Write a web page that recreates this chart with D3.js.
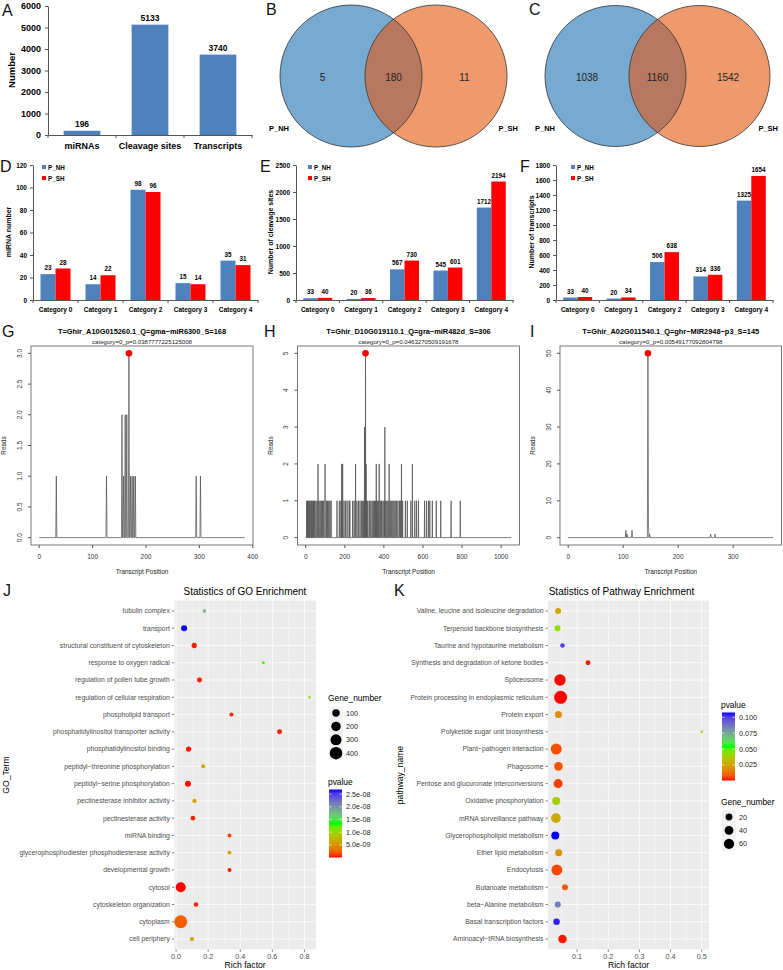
<!DOCTYPE html>
<html><head><meta charset="utf-8">
<script src="https://cdn.jsdelivr.net/npm/d3@7"></script>
<style>body{margin:0;background:#fff}svg{display:block}text{font-family:"Liberation Sans",Arial,Helvetica,sans-serif}</style>
</head><body><svg id="c" width="783" height="970"></svg>
<script>
// ================= DATA =================
// Panel A
const aCategories = ["miRNAs", "Cleavage sites", "Transcripts"];
const aValues = [196, 5133, 3740];
const aTicks = [0, 1000, 2000, 3000, 4000, 5000, 6000];
// Panels B, C (Venn: only-left, both, only-right)
const vennSets = ["P_NH", "P_SH"];
const vennB = [5, 180, 11];
const vennC = [1038, 1160, 1542];
// Panels D, E, F
const catNames = ["Category 0", "Category 1", "Category 2", "Category 3", "Category 4"];
const seriesNames = ["P_NH", "P_SH"];
const dNH = [23, 14, 98, 15, 35];
const dSH = [28, 22, 96, 14, 31];
const dTicks = [0, 20, 40, 60, 80, 100, 120];
const eNH = [33, 20, 567, 545, 1712];
const eSH = [40, 36, 730, 601, 2194];
const eTicks = [0, 500, 1000, 1500, 2000, 2500];
const fNH = [33, 20, 506, 314, 1325];
const fSH = [40, 34, 638, 336, 1654];
const fTicks = [0, 200, 400, 600, 800, 1000, 1200, 1400, 1600, 1800];
// Panel G (t-plot)
const gTitle = "T=Ghir_A10G015260.1_Q=gma\u2212miR6300_S=168";
const gSub = "category=0_p=0.0387777225125008";
const gLength = 385;
const gPos =   [32, 126, 155, 158, 161, 164, 168, 171, 174, 177, 180, 294, 302];
const gReads = [1,  1,   2,   1,   2,   2,   3,   1,   1,   1,   1,   1,   1];
const gSite = 168, gSiteReads = 3;
const gXTicks = [0, 100, 200, 300, 400];
const gYTicks = [0, 0.5, 1, 1.5, 2, 2.5, 3];
// Panel H
const hTitle = "T=Ghir_D10G019110.1_Q=gra\u2212miR482d_S=306";
const hSub = "category=0_p=0.0463270509191678";
const hLength = 1052;
const hPos =   [5,9,13,18,22,27,31,36,40,45,52,58,63,68,74,80,86,92,99,106,112,118,124,130,160,172,180,184,189,196,204,212,222,226,240,248,255,262,270,278,286,292,297,301,306,309,313,318,326,333,340,346,352,358,361,366,371,376,382,388,395,401,405,410,416,422,427,433,440,446,452,458,465,472,480,486,490,496,510,520,538,546,558,567,577,608,618,628,635,648,668,691,744,791];
const hReads = [1,1,1,1,1,1,1,1,1,1,1,1,2,1,1,1,1,1,2,1,1,1,1,1,1,1,1,2,2,1,1,1,1,1,1,1,2,1,1,1,1,1,1,3,5,2,1,1,1,1,1,1,1,1,2,1,1,2,1,1,1,1,3,1,1,1,2,1,1,1,1,1,1,1,1,1,2,1,1,1,1,2,1,1,1,1,1,1,1,1,1,1,1,1];
const hSite = 306, hSiteReads = 5;
const hXTicks = [0, 200, 400, 600, 800, 1000];
const hYTicks = [0, 1, 2, 3, 4, 5];
// Panel I
const iTitle = "T=Ghir_A02G011540.1_Q=ghr\u2212MIR2948\u2212p3_S=145";
const iSub = "category=0_p=0.00549177092804798";
const iLength = 373;
const iPos =   [105, 107, 116, 145, 146, 148, 259, 267];
const iReads = [2,   1,   2,   50,  3,   1,   1,   1];
const iSite = 145, iSiteReads = 50;
const iXTicks = [0, 100, 200, 300];
const iYTicks = [0, 10, 20, 30, 40, 50];
// Panel J (GO enrichment)
const goTerms = ["tubulin complex","transport","structural constituent of cytoskeleton","response to oxygen radical","regulation of pollen tube growth","regulation of cellular respiration","phospholipid transport","phosphatidylinositol transporter activity","phosphatidylinositol binding","peptidyl\u2212threonine phosphorylation","peptidyl\u2212serine phosphorylation","pectinesterase inhibitor activity","pectinesterase activity","miRNA binding","glycerophosphodiester phosphodiesterase activity","developmental growth","cytosol","cytoskeleton organization","cytoplasm","cell periphery"];
const goRich =  [0.176,0.050,0.113,0.544,0.146,0.832,0.345,0.645,0.078,0.169,0.074,0.115,0.105,0.333,0.333,0.333,0.029,0.124,0.029,0.099];
const goGenes = [5,52,34,3,27,2,11,27,34,11,52,15,21,11,9,11,231,21,450,15];
const goP =     [1.81e-8,2.68e-8,3e-10,1.3e-8,2e-10,1.07e-8,4e-10,3e-10,2e-10,6.2e-9,1e-10,6.4e-9,3e-10,1e-9,6.4e-9,2e-10,1e-11,4e-10,2.2e-9,6.2e-9];
const goXTicks = [0, 0.2, 0.4, 0.6, 0.8];
const goSizeBreaks = [100, 200, 300, 400];
const goPTicks = [5e-9, 1e-8, 1.5e-8, 2e-8, 2.5e-8];
// Panel K (pathway enrichment)
const pwTerms = ["Valine, leucine and isoleucine degradation","Terpenoid backbone biosynthesis","Taurine and hypotaurine metabolism","Synthesis and degradation of ketone bodies","Spliceosome","Protein processing in endoplasmic reticulum","Protein export","Polyketide sugar unit biosynthesis","Plant\u2212pathogen interaction","Phagosome","Pentose and glucuronate interconversions","Oxidative phosphorylation","mRNA surveillance pathway","Glycerophospholipid metabolism","Ether lipid metabolism","Endocytosis","Butanoate metabolism","beta\u2212Alanine metabolism","Basal transcription factors","Aminoacyl\u2212tRNA biosynthesis"];
const pwRich =  [0.039,0.037,0.053,0.135,0.045,0.047,0.040,0.500,0.033,0.040,0.039,0.033,0.032,0.030,0.041,0.035,0.061,0.038,0.034,0.053];
const pwGenes = [13,13,5,7,80,110,21,1,72,37,43,31,52,31,21,70,13,13,17,37];
const pwP =     [0.026,0.043,0.100,0.001,0.0005,0.0003,0.019,0.038,0.0065,0.007,0.004,0.037,0.027,0.1076,0.020,0.005,0.008,0.086,0.105,0.001];
const pwXTicks = [0.1, 0.2, 0.3, 0.4, 0.5];
const pwSizeBreaks = [20, 40, 60];
const pwPTicks = [0.025, 0.05, 0.075, 0.1];

// ================= DRAWING =================
const svg = d3.select("#c");
svg.append("rect").attr("width", 783).attr("height", 970).attr("fill", "#fff");
const barBlue = "#4F81BD", barRed = "#FF0000";

function txt(g, s, x, y, size, opts = {}) {
  const t = g.append("text").attr("x", x).attr("y", y).attr("font-size", size).text(s)
    .attr("fill", opts.fill || "#000");
  if (opts.anchor) t.attr("text-anchor", opts.anchor);
  if (opts.bold) t.attr("font-weight", "bold");
  if (opts.rot) t.attr("transform", `rotate(${opts.rot},${x},${y})`);
  return t;
}
function letter(s, x, y) { txt(svg, s, x, y, 16, { fill: "#111" }); }

// ---------- Panel A ----------
(function () {
  const g = svg.append("g");
  const x = d3.scaleBand().domain(aCategories).range([48, 252]).paddingInner(0.46).paddingOuter(0.23);
  const y = d3.scaleLinear().domain([0, d3.max(aTicks)]).range([135, 6]);
  g.selectAll("rect.bar").data(aValues).join("rect")
    .attr("x", (d, i) => x(aCategories[i])).attr("y", d => y(d))
    .attr("width", x.bandwidth()).attr("height", d => y(0) - y(d)).attr("fill", barBlue);
  g.selectAll("text.val").data(aValues).join("text")
    .attr("x", (d, i) => x(aCategories[i]) + x.bandwidth() / 2).attr("y", d => y(d) - 4)
    .attr("text-anchor", "middle").attr("font-size", 8.5).attr("font-weight", "bold").text(d => d);
  const ax = g.append("g").attr("transform", "translate(48,0)").call(d3.axisLeft(y).tickValues(aTicks).tickFormat(d3.format("d")).tickSize(3).tickSizeOuter(0).tickPadding(4));
  ax.selectAll("text").attr("font-size", 9).attr("font-weight", "bold").attr("font-family", null);
  ax.selectAll("line,path").attr("stroke", "#555");
  const bx = g.append("g").attr("transform", "translate(0,135)").call(d3.axisBottom(x).tickSize(0).tickPadding(8).tickSizeOuter(0));
  bx.selectAll("text").attr("font-size", 9).attr("font-weight", "bold").attr("font-family", null);
  bx.select("path").attr("stroke", "#555");
  d3.range(aCategories.length + 1).forEach(i => {
    const xx = x.range()[0] + i * x.step();
    g.append("line").attr("x1", xx).attr("x2", xx).attr("y1", 135).attr("y2", 138).attr("stroke", "#555");
  });
  txt(g, "Number", 15, 70, 9.5, { bold: true, anchor: "middle", rot: -90 });
  letter("A", 2, 16);
})();

// ---------- Venn B, C ----------
function venn(counts, cx, cy, r, d, lx0, lx1) {
  const g = svg.append("g");
  const id = "clip" + Math.round(cx);
  const centers = [cx - d / 2, cx + d / 2];
  g.append("clipPath").attr("id", id).append("circle").attr("cx", centers[0]).attr("cy", cy).attr("r", r);
  g.append("circle").attr("cx", centers[0]).attr("cy", cy).attr("r", r).attr("fill", "#77AAD1");
  g.append("circle").attr("cx", centers[1]).attr("cy", cy).attr("r", r).attr("fill", "#EF9A6D");
  g.append("circle").attr("cx", centers[1]).attr("cy", cy).attr("r", r).attr("fill", "#B7785F").attr("clip-path", `url(#${id})`);
  centers.forEach(c => g.append("circle").attr("cx", c).attr("cy", cy).attr("r", r).attr("fill", "none").attr("stroke", "#333").attr("stroke-width", 0.8));
  const lx = [(centers[0] - r + centers[1] - r) / 2, cx, (centers[0] + r + centers[1] + r) / 2];
  counts.forEach((v, i) => txt(g, v, lx[i], cy + 4.5, 10, { anchor: "middle", fill: "#222" }));
  txt(g, vennSets[0], lx0, 131, 7.5, { bold: true });
  txt(g, vennSets[1], lx1, 131, 7.5, { bold: true, anchor: "end" });
}
venn(vennB, 393.5, 76, 71, 85, 269, 518);
letter("B", 266, 15);
venn(vennC, 657.5, 76, 70.5, 84, 535, 778);
letter("C", 529, 15);

// ---------- Grouped bars D, E, F ----------
function barPanel(o) {
  const g = svg.append("g");
  const x = d3.scaleBand().domain(catNames).range([o.x0, o.x1]).paddingInner(1 / 3).paddingOuter(1 / 6);
  const xs = d3.scaleBand().domain(seriesNames).range([0, x.bandwidth()]);
  const y = d3.scaleLinear().domain([0, d3.max(o.ticks)]).range([300, 165]);
  const cols = [barBlue, barRed];
  const rows = [];
  catNames.forEach((c, i) => [o.nh[i], o.sh[i]].forEach((v, j) => rows.push({ c, s: seriesNames[j], v, col: cols[j] })));
  g.selectAll("rect").data(rows).join("rect")
    .attr("x", d => x(d.c) + xs(d.s)).attr("y", d => y(d.v)).attr("width", xs.bandwidth())
    .attr("height", d => y(0) - y(d.v)).attr("fill", d => d.col);
  g.selectAll("text.v").data(rows).join("text")
    .attr("x", d => x(d.c) + xs(d.s) + xs.bandwidth() / 2).attr("y", d => y(d.v) - 4)
    .attr("text-anchor", "middle").attr("font-size", 6.3).attr("font-weight", "bold").text(d => d.v);
  const ax = g.append("g").attr("transform", `translate(${o.x0},0)`).call(d3.axisLeft(y).tickValues(o.ticks).tickFormat(d3.format("d")).tickSize(3).tickSizeOuter(0).tickPadding(3));
  ax.selectAll("text").attr("font-size", 6.5).attr("font-weight", "bold").attr("font-family", null);
  ax.selectAll("line,path").attr("stroke", "#555");
  const bx = g.append("g").attr("transform", "translate(0,300)").call(d3.axisBottom(x).tickSize(0).tickPadding(7).tickSizeOuter(0));
  bx.selectAll("text").attr("font-size", 6.5).attr("font-weight", "bold").attr("font-family", null);
  bx.select("path").attr("stroke", "#555");
  d3.range(catNames.length + 1).forEach(i => {
    const xx = o.x0 + i * x.step();
    g.append("line").attr("x1", xx).attr("x2", xx).attr("y1", 300).attr("y2", 303).attr("stroke", "#555");
  });
  txt(g, o.ylabel, o.ylx, 232, 7, { bold: true, anchor: "middle", rot: -90 });
  seriesNames.forEach((s, j) => {
    g.append("rect").attr("x", o.lx).attr("y", 165 + j * 11).attr("width", 4).attr("height", 4).attr("fill", cols[j]);
    txt(g, s, o.lx + 6, 169.5 + j * 11, 6.3, { bold: true });
  });
}
barPanel({ x0: 33, x1: 258, nh: dNH, sh: dSH, ticks: dTicks, ylabel: "miRNA number", ylx: 11, lx: 42 });
barPanel({ x0: 296, x1: 513, nh: eNH, sh: eSH, ticks: eTicks, ylabel: "Number of cleavage sites", ylx: 273, lx: 308 });
barPanel({ x0: 556, x1: 773, nh: fNH, sh: fSH, ticks: fTicks, ylabel: "Number of transcripts", ylx: 534, lx: 571 });
letter("D", 0, 172); letter("E", 260, 172); letter("F", 520, 172);

// ---------- Degradome t-plots G, H, I ----------
function tplot(o) {
  const g = svg.append("g");
  const yt = 346, yb = 545;
  const maxR = d3.max(o.reads);
  const px = o.length * 0.04, py = maxR * 0.04;
  const x = d3.scaleLinear().domain([-px, o.length + px]).range([o.x0, o.x1]);
  const y = d3.scaleLinear().domain([-py, maxR + py]).range([yb, yt]);
  const m = new Map(o.pos.map((p, i) => [p, o.reads[i]]));
  const keys = new Set([0, o.length]);
  o.pos.forEach(p => { keys.add(p - 1); keys.add(p); keys.add(p + 1); });
  const pts = Array.from(keys).sort((a, b) => a - b).map(p => [p, m.get(p) || 0]);
  g.append("path").attr("d", d3.line().x(d => x(d[0])).y(d => y(d[1]))(pts))
    .attr("fill", "none").attr("stroke", "#4a4a4a").attr("stroke-width", 0.7);
  g.append("circle").attr("cx", x(o.site)).attr("cy", y(o.siteReads)).attr("r", 3.3).attr("fill", "#FF0000");
  g.append("rect").attr("x", o.x0).attr("y", yt).attr("width", o.x1 - o.x0).attr("height", yb - yt)
    .attr("fill", "none").attr("stroke", "#555").attr("stroke-width", 0.8);
  o.xt.forEach(t => {
    g.append("line").attr("x1", x(t)).attr("x2", x(t)).attr("y1", yb).attr("y2", yb + 3).attr("stroke", "#555");
    txt(g, t, x(t), yb + 14, 6.5, { anchor: "middle", fill: "#333" });
  });
  o.yt.forEach(t => {
    g.append("line").attr("x1", o.x0).attr("x2", o.x0 - 3).attr("y1", y(t)).attr("y2", y(t)).attr("stroke", "#555");
    txt(g, o.fmt(t), o.x0 - 9, y(t), 6.5, { anchor: "middle", fill: "#333", rot: -90 });
  });
  const cx = (o.x0 + o.x1) / 2;
  txt(g, o.title, cx, 334, 7.4, { anchor: "middle", bold: true });
  txt(g, o.sub, cx, 344, 6.1, { anchor: "middle", fill: "#222" });
  txt(g, "Transcript Position", cx, 574, 6.4, { anchor: "middle", fill: "#222" });
  txt(g, "Reads", o.x0 - 25, (yt + yb) / 2, 6.4, { anchor: "middle", fill: "#222", rot: -90 });
}
tplot({ x0: 31, x1: 253, length: gLength, pos: gPos, reads: gReads, site: gSite, siteReads: gSiteReads, xt: gXTicks, yt: gYTicks, fmt: d3.format(".1f"), title: gTitle, sub: gSub });
tplot({ x0: 297.5, x1: 519.5, length: hLength, pos: hPos, reads: hReads, site: hSite, siteReads: hSiteReads, xt: hXTicks, yt: hYTicks, fmt: d3.format("d"), title: hTitle, sub: hSub });
tplot({ x0: 560, x1: 781.5, length: iLength, pos: iPos, reads: iReads, site: iSite, siteReads: iSiteReads, xt: iXTicks, yt: iYTicks, fmt: d3.format("d"), title: iTitle, sub: iSub });
letter("G", 2, 337); letter("H", 264, 337); letter("I", 530, 337);

// ---------- Enrichment dot plots J, K ----------
function dotPlot(o) {
  const g = svg.append("g");
  const yt = 600.6, yb = 949.4;
  const ext = d3.extent(o.rich), pad = (ext[1] - ext[0]) * 0.05;
  const x = d3.scaleLinear().domain([ext[0] - pad, ext[1] + pad]).range([o.x0, o.x1]);
  const y = d3.scalePoint().domain(o.terms).range([yt, yb]).padding(0.6);
  const pExt = d3.extent(o.p);
  const color = d3.scaleLinear().domain([pExt[0], (pExt[0] + pExt[1]) / 2, pExt[1]])
    .range(["#FF0000", "#00FF00", "#0000FF"]).interpolate(d3.interpolateLab);
  const gExt = d3.extent(o.genes);
  const resc = d3.scaleLinear().domain(gExt).range([0, 1]).clamp(true);
  const diam = d3.scaleLinear().domain([0, 1]).range([2.5, 13]);
  const rad = n => diam(Math.sqrt(resc(n))) / 2;
  g.append("rect").attr("x", o.x0).attr("y", yt).attr("width", o.x1 - o.x0).attr("height", yb - yt).attr("fill", "#EBEBEB");
  const dom = x.domain();
  o.minor.filter(t => t > dom[0] && t < dom[1]).forEach(t =>
    g.append("line").attr("x1", x(t)).attr("x2", x(t)).attr("y1", yt).attr("y2", yb).attr("stroke", "#fff").attr("stroke-width", 0.35));
  o.xt.forEach(t => g.append("line").attr("x1", x(t)).attr("x2", x(t)).attr("y1", yt).attr("y2", yb).attr("stroke", "#fff").attr("stroke-width", 0.75));
  o.terms.forEach(t => g.append("line").attr("x1", o.x0).attr("x2", o.x1).attr("y1", y(t)).attr("y2", y(t)).attr("stroke", "#fff").attr("stroke-width", 0.75));
  const rows = o.terms.map((t, i) => ({ t, r: o.rich[i], n: o.genes[i], p: o.p[i] }));
  g.selectAll("circle.pt").data(rows).join("circle")
    .attr("cx", d => x(d.r)).attr("cy", d => y(d.t)).attr("r", d => rad(d.n)).attr("fill", d => color(d.p));
  // axes
  o.terms.forEach(t => {
    g.append("line").attr("x1", o.x0 - 2.5).attr("x2", o.x0).attr("y1", y(t)).attr("y2", y(t)).attr("stroke", "#333").attr("stroke-width", 0.6);
    txt(g, t, o.x0 - 4.5, y(t) + 2.4, 6.8, { anchor: "end", fill: "#4D4D4D" });
  });
  o.xt.forEach(t => {
    g.append("line").attr("x1", x(t)).attr("x2", x(t)).attr("y1", yb).attr("y2", yb + 2.5).attr("stroke", "#333").attr("stroke-width", 0.6);
    txt(g, d3.format(".1f")(t), x(t), yb + 10, 7.2, { anchor: "middle", fill: "#4D4D4D" });
  });
  txt(g, "Rich factor", (o.x0 + o.x1) / 2, 968, 8.6, { anchor: "middle" });
  txt(g, o.ylabel, o.ylx, (yt + yb) / 2, 8.6, { anchor: "middle", rot: -90 });
  txt(g, o.title, o.titleX, 595, 10, { anchor: "middle" });
  function sizeLegend(ly) {
    txt(g, "Gene_number", o.lx, ly, 8.4);
    o.sizeBreaks.forEach((b, i) => {
      const cy = ly + 12 + i * 13.4;
      g.append("rect").attr("x", o.lx + 1).attr("y", cy - 6.7).attr("width", 14).attr("height", 13.4).attr("fill", "#F2F2F2");
      g.append("circle").attr("cx", o.lx + 8).attr("cy", cy).attr("r", rad(b)).attr("fill", "#000");
      txt(g, b, o.lx + 18, cy + 2.6, 7.2, { fill: "#222" });
    });
  }
  function colorLegend(ly) {
    txt(g, "pvalue", o.lx, ly, 8.4);
    const by0 = ly + 4.5, by1 = by0 + 68;
    const cy = d3.scaleLinear().domain(pExt).range([by1, by0]);
    const gid = "grad" + Math.round(o.x0);
    const lg = g.append("defs").append("linearGradient").attr("id", gid).attr("x1", 0).attr("x2", 0).attr("y1", 1).attr("y2", 0);
    d3.range(0, 1.0001, 0.05).forEach(f => lg.append("stop").attr("offset", f).attr("stop-color", color(pExt[0] + f * (pExt[1] - pExt[0]))));
    g.append("rect").attr("x", o.lx + 1).attr("y", by0).attr("width", 13).attr("height", by1 - by0).attr("fill", `url(#${gid})`);
    o.pTicks.forEach(t => {
      g.append("line").attr("x1", o.lx + 1).attr("x2", o.lx + 3.6).attr("y1", cy(t)).attr("y2", cy(t)).attr("stroke", "#fff").attr("stroke-width", 0.6);
      g.append("line").attr("x1", o.lx + 11.4).attr("x2", o.lx + 14).attr("y1", cy(t)).attr("y2", cy(t)).attr("stroke", "#fff").attr("stroke-width", 0.6);
      txt(g, o.pFmt(t), o.lx + 18, cy(t) + 2.6, 7.2, { fill: "#222" });
    });
  }
  if (o.sizeFirst) { sizeLegend(701); colorLegend(785); }
  else { colorLegend(708); sizeLegend(805); }
}
dotPlot({ x0: 174.3, x1: 316, terms: goTerms, rich: goRich, genes: goGenes, p: goP, xt: goXTicks, minor: [0.1, 0.3, 0.5, 0.7],
  sizeBreaks: goSizeBreaks, pTicks: goPTicks, pFmt: t => t.toExponential(1).replace(/e([+-])(\d)$/, "e$10$2"),
  ylabel: "GO_Term", ylx: 9, title: "Statistics of GO Enrichment", titleX: 245, lx: 328, sizeFirst: true });
dotPlot({ x0: 548, x1: 709, terms: pwTerms, rich: pwRich, genes: pwGenes, p: pwP, xt: pwXTicks, minor: [0.05, 0.15, 0.25, 0.35, 0.45],
  sizeBreaks: pwSizeBreaks, pTicks: pwPTicks, pFmt: d3.format(".3f"),
  ylabel: "pathway_name", ylx: 403, title: "Statistics of Pathway Enrichment", titleX: 621.5, lx: 721, sizeFirst: false });
letter("J", 3, 596); letter("K", 394, 596);
</script></body></html>
